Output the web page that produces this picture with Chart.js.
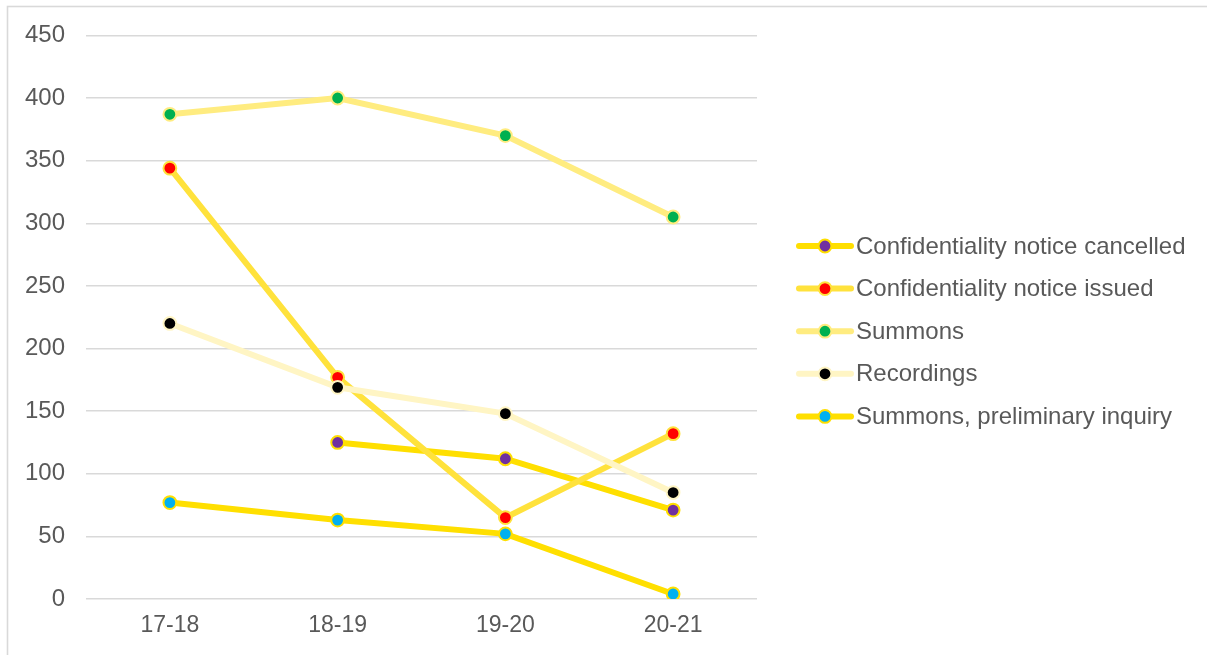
<!DOCTYPE html>
<html>
<head>
<meta charset="utf-8">
<script src="https://cdn.jsdelivr.net/npm/chart.js@4/dist/chart.umd.min.js"></script>
<style>
  html, body { margin: 0; padding: 0; background: #ffffff; }
  #wrap { width: 1207px; height: 655px; position: relative; }
</style>
</head>
<body>
<div id="wrap"><canvas id="c" width="1207" height="655"></canvas></div>
<script>
// Financial years on the category axis
const years = ['17-18', '18-19', '19-20', '20-21'];

// Counts per year for each measure
const cancelled   = [null, 125, 112, 71];
const issued      = [344, 177, 65, 132];
const summons     = [387, 400, 370, 305];
const recordings  = [220, 169, 148, 85];
const preliminary = [77, 63, 52, 4];

// Series labels, in legend order
const seriesNames = [
  'Confidentiality notice cancelled',
  'Confidentiality notice issued',
  'Summons',
  'Recordings',
  'Summons, preliminary inquiry'
];

// Value axis range
const yMin = 0;
const yMax = 450;
const yStep = 50;

const seriesData = [cancelled, issued, summons, recordings, preliminary];
const lineColors = ['#FFDF00', '#FFE23C', '#FFEC80', '#FFF5C4', '#FFDF00'];
const dotColors  = ['#7030A0', '#FF0000', '#00B050', '#000000', '#00B0F0'];

const FONT = '"Liberation Sans", Arial, sans-serif';
const TEXT = '#595959';

const datasets = seriesData.map((vals, i) => ({
  label: seriesNames[i],
  data: vals,
  borderColor: lineColors[i],
  backgroundColor: dotColors[i],
  borderWidth: 6,
  pointRadius: 6.4,
  pointHoverRadius: 6.4,
  pointBorderWidth: 2,
  pointBorderColor: lineColors[i],
  pointBackgroundColor: dotColors[i],
  tension: 0,
  fill: false,
  spanGaps: false,
  // later series sit on top of earlier ones
  order: seriesData.length - i
}));

// Light grey frame around the whole chart
const framePlugin = {
  id: 'frame',
  beforeDraw(chart) {
    const ctx = chart.ctx;
    ctx.save();
    ctx.fillStyle = '#ffffff';
    ctx.fillRect(0, 0, chart.width, chart.height);
    ctx.strokeStyle = '#d9d9d9';
    ctx.lineWidth = 1.6;
    ctx.strokeRect(7.5, 6.5, chart.width + 20, chart.height + 20);
    ctx.restore();
  }
};

// Legend on the right: line sample with marker, then the series name
const sideLegend = {
  id: 'sideLegend',
  afterDraw(chart, args, opts) {
    const ctx = chart.ctx;
    ctx.save();
    ctx.font = opts.fontSize + 'px ' + FONT;
    ctx.textBaseline = 'middle';
    ctx.textAlign = 'left';
    chart.data.datasets.forEach((ds, i) => {
      const y = opts.top + i * opts.step;
      ctx.strokeStyle = ds.borderColor;
      ctx.lineWidth = ds.borderWidth;
      ctx.lineCap = 'round';
      ctx.beginPath();
      ctx.moveTo(opts.x, y);
      ctx.lineTo(opts.x + opts.lineLen, y);
      ctx.stroke();
      ctx.beginPath();
      ctx.arc(opts.x + opts.lineLen / 2, y, ds.pointRadius, 0, Math.PI * 2);
      ctx.fillStyle = ds.pointBackgroundColor;
      ctx.fill();
      ctx.lineWidth = ds.pointBorderWidth;
      ctx.strokeStyle = ds.pointBorderColor;
      ctx.stroke();
      ctx.fillStyle = TEXT;
      ctx.fillText(ds.label, opts.x + opts.lineLen + opts.gap, y + 1);
    });
    ctx.restore();
  }
};

new Chart(document.getElementById('c'), {
  type: 'line',
  data: { labels: years, datasets },
  plugins: [framePlugin, sideLegend],
  options: {
    responsive: false,
    devicePixelRatio: 1,
    animation: false,
    layout: { padding: { top: 35, right: 450, left: 0, bottom: 0 } },
    plugins: {
      legend: { display: false },
      tooltip: { enabled: false },
      sideLegend: { x: 799, lineLen: 52, gap: 5, top: 246, step: 42.6, fontSize: 24 }
    },
    scales: {
      x: {
        offset: true,
        grid: { display: false, drawTicks: false },
        border: { display: false },
        ticks: { color: TEXT, font: { family: FONT, size: 23 }, padding: 13, maxRotation: 0 },
        afterFit(scale) { scale.height = 56; }
      },
      y: {
        min: yMin,
        max: yMax,
        grid: { color: '#d9d9d9', lineWidth: 1.5, drawTicks: false },
        border: { display: false },
        ticks: { stepSize: yStep, color: TEXT, font: { family: FONT, size: 24 }, padding: 21 },
        afterFit(scale) { scale.width = 86; }
      }
    }
  }
});
</script>
</body>
</html>
